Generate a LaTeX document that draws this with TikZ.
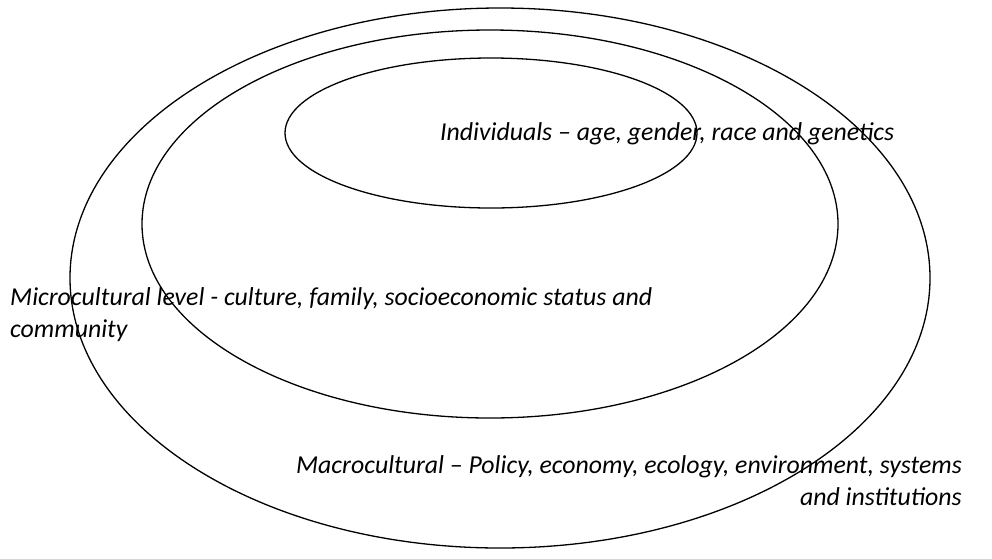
\documentclass[tikz,border=0pt]{standalone}
\usepackage{fontspec}
\setmainfont{Carlito}
\begin{document}
\begin{tikzpicture}[x=1pt,y=-1pt,
  ring/.style={draw=black, line width=1.3pt},
  lbl/.style={font=\fontsize{25.8}{32}\selectfont\itshape, inner sep=0pt}]
\useasboundingbox (0,0) rectangle (992,558);
\draw[ring] (500,278) ellipse [x radius=430, y radius=270];
\draw[ring] (490,224) ellipse [x radius=348, y radius=194];
\draw[ring] (491,133) ellipse [x radius=206, y radius=75];
\node[lbl, anchor=base west] (ind) at (440,140) {Individuals – age, gender, race and genetics};
\node[lbl, anchor=base west, align=left] (mic) at (10,337) {Microcultural level - culture, family, socioeconomic status and\\community};
\node[lbl, anchor=base east, align=right] (mac) at (962,505) {Macrocultural – Policy, economy, ecology, environment, systems\\and institutions};
\end{tikzpicture}
\end{document}
